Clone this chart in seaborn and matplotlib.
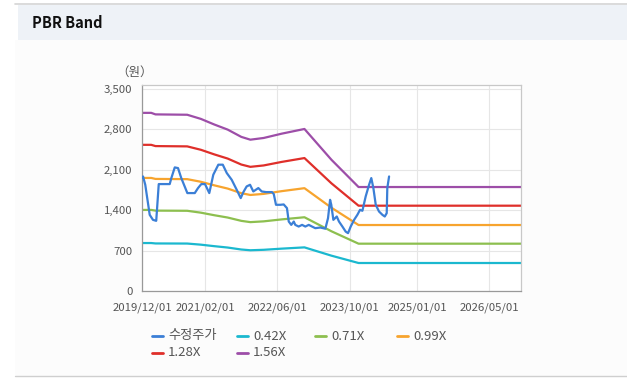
import pandas as pd
import matplotlib.pyplot as plt
import matplotlib.dates as mdates
from matplotlib.lines import Line2D
from matplotlib.patches import Rectangle
from matplotlib.ticker import FuncFormatter
import seaborn as sns

# 수정주가 (adjusted price)
price_dates = [
    "2019-12-01", "2019-12-08", "2019-12-23", "2020-01-22", "2020-02-13", "2020-03-06",
    "2020-03-23", "2020-06-05", "2020-06-16", "2020-07-09", "2020-07-31", "2020-08-22",
    "2020-10-02", "2020-11-21", "2020-12-13", "2021-01-04", "2021-01-29", "2021-02-27",
    "2021-03-26", "2021-04-29", "2021-05-29", "2021-06-25", "2021-07-28", "2021-08-31",
    "2021-09-27", "2021-10-15", "2021-11-06", "2021-11-29", "2021-12-21", "2022-01-24",
    "2022-02-16", "2022-03-17", "2022-04-26", "2022-05-08", "2022-05-23", "2022-06-21",
    "2022-07-14", "2022-08-05", "2022-08-17", "2022-09-03", "2022-09-20", "2022-09-30",
    "2022-10-23", "2022-11-15", "2022-12-07", "2022-12-30", "2023-01-21", "2023-02-12",
    "2023-03-18", "2023-04-21", "2023-05-09", "2023-05-23", "2023-05-31", "2023-06-14",
    "2023-07-07", "2023-07-22", "2023-08-14", "2023-09-05", "2023-09-21", "2023-10-09",
    "2023-11-01", "2023-11-23", "2023-12-11", "2023-12-27", "2024-01-18", "2024-02-10",
    "2024-02-25", "2024-03-10", "2024-03-26", "2024-04-17", "2024-05-10", "2024-05-26",
    "2024-06-08", "2024-06-12", "2024-06-24",
]
price_values = [
    1960, 1985, 1841, 1320, 1233, 1216,
    1853, 1853, 1957, 2142, 2130, 1957,
    1697, 1697, 1784, 1853, 1853, 1697,
    2015, 2189, 2189, 2044, 1928, 1754,
    1610, 1714, 1812, 1841, 1725, 1784,
    1725, 1714, 1714, 1680, 1494, 1494,
    1500, 1436, 1204, 1146, 1204, 1146,
    1117, 1146, 1117, 1146, 1117, 1089,
    1100, 1080, 1262, 1580, 1494, 1233,
    1291, 1204, 1117, 1030, 1002, 1117,
    1233, 1320, 1407, 1390, 1638, 1841,
    1957, 1784, 1494, 1378, 1320, 1291,
    1349, 1784, 1985,
]

# BPS behind the bands (band value = multiple x BPS)
bps_dates = [
    "2019-12-01", "2020-02-01", "2020-03-01", "2020-10-01", "2021-01-01", "2021-04-01",
    "2021-07-01", "2021-10-01", "2021-12-01", "2022-03-01", "2022-07-01", "2022-12-01",
    "2023-06-01", "2023-12-01", "2026-12-01",
]
bps_values = [1979, 1979, 1962, 1958, 1912, 1850, 1793, 1712, 1681, 1700, 1748, 1800,
              1458, 1155, 1155]

band_multiples = [0.42, 0.71, 0.99, 1.28, 1.56]
band_labels = ["0.42X", "0.71X", "0.99X", "1.28X", "1.56X"]

series_labels = ["수정주가"] + band_labels
series_colors = ["#3b7fd6", "#1bb8cf", "#8dbf4f", "#f7a42e", "#df2f2a", "#9d4ea8"]

x_ticks = ["2019/12/01", "2021/02/01", "2022/06/01", "2023/10/01", "2025/01/01", "2026/05/01"]
y_ticks = [0, 700, 1400, 2100, 2800, 3500]

rows = [{"date": d, "value": v, "series": "수정주가"} for d, v in zip(price_dates, price_values)]
for m, lab in zip(band_multiples, band_labels):
    rows += [{"date": d, "value": m * b, "series": lab} for d, b in zip(bps_dates, bps_values)]
df = pd.DataFrame(rows)
df["date"] = pd.to_datetime(df["date"])

sns.set_theme(style="white")
plt.rcParams["font.family"] = ["Noto Sans CJK KR", "DejaVu Sans"]

W, H = 627, 386
fig = plt.figure(figsize=(W / 100, H / 100), dpi=100, facecolor="white")

# page chrome: header strip and panel
fig.add_artist(Rectangle((15 / W, 1 - 376 / H), 1, (376 - 40) / H, transform=fig.transFigure,
                         facecolor="#fcfcfc", edgecolor="none", zorder=0))
fig.add_artist(Rectangle((18 / W, 1 - 40 / H), 1, 35 / H, transform=fig.transFigure,
                         facecolor="#eef2f7", edgecolor="none", zorder=0))
fig.add_artist(Line2D([15 / W, 1], [1 - 4 / H] * 2, transform=fig.transFigure,
                      color="#d4d4d4", lw=1.2))
fig.add_artist(Line2D([15 / W, 1], [1 - 376 / H] * 2, transform=fig.transFigure,
                      color="#cfcfcf", lw=1))
fig.text(32 / W, 1 - 23 / H, "PBR Band", fontsize=10.5, fontweight="bold",
         color="#111111", va="center", ha="left")

ax = fig.add_axes([142 / W, 1 - 291 / H, (521 - 142) / W, (291 - 85) / H])
ax.set_facecolor("white")

sns.lineplot(data=df, x="date", y="value", hue="series", hue_order=series_labels,
             palette=series_colors, linewidth=1.6, legend=False, ax=ax)
# price on top
ax.lines[0].set_zorder(5)

ax.set_xlim(pd.Timestamp("2019-12-01"), pd.Timestamp("2026-12-01"))
ax.set_ylim(0, 3570)
ax.set_xticks(pd.to_datetime(x_ticks))
ax.xaxis.set_major_formatter(mdates.DateFormatter("%Y/%m/%d"))
ax.set_yticks(y_ticks)
ax.yaxis.set_major_formatter(FuncFormatter(lambda v, p: f"{int(v):,}"))
ax.set_xlabel("")
ax.set_ylabel("")
ax.grid(True, color="#e6e6e6", linewidth=0.8)
ax.tick_params(axis="both", labelsize=8.2, colors="#555555", length=4, width=0.8,
               direction="out", color="#999999")
ax.tick_params(axis="x", pad=4)
ax.tick_params(axis="y", pad=3)
for side in ["left", "bottom"]:
    ax.spines[side].set_color("#999999")
    ax.spines[side].set_linewidth(0.9)
for side in ["top", "right"]:
    ax.spines[side].set_color("#c8c8c8")
    ax.spines[side].set_linewidth(0.9)

fig.text(135 / W, 1 - 72 / H, "（원）", fontsize=9, color="#555555", ha="center", va="center")

# legend laid out like the original
legend_pos = [(152, 336), (237, 336), (315, 336), (397, 336), (152, 353), (237, 353)]
for (lx, ly), lab, col in zip(legend_pos, series_labels, series_colors):
    fig.add_artist(Line2D([lx / W, (lx + 11) / W], [1 - ly / H] * 2, transform=fig.transFigure,
                          color=col, lw=2))
    fig.text((lx + 16) / W, 1 - ly / H, lab, fontsize=9.5, color="#555555",
             ha="left", va="center")

fig.savefig("out.png", dpi=100, facecolor=fig.get_facecolor())
